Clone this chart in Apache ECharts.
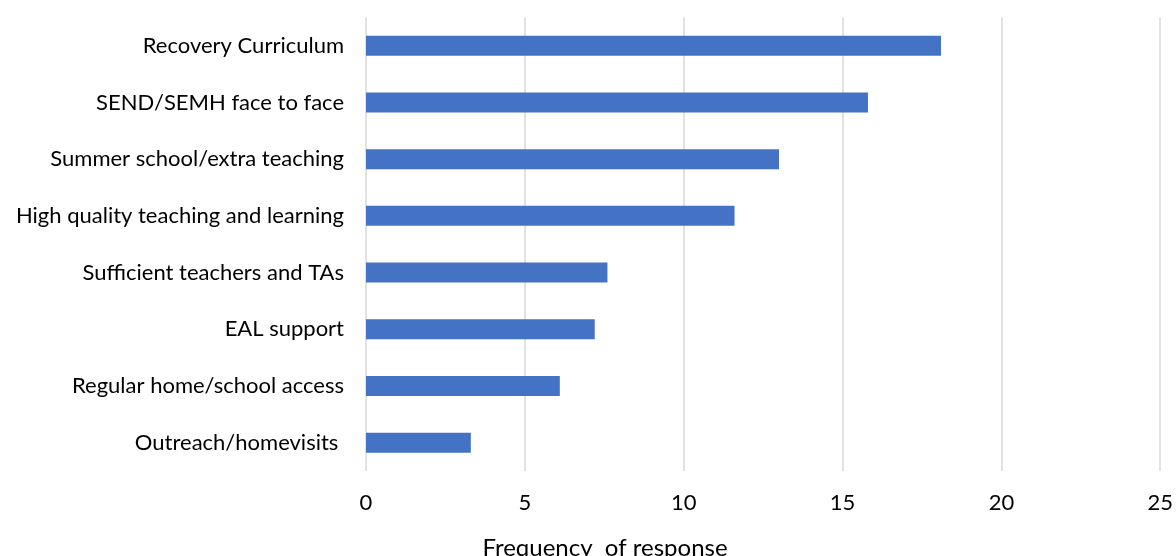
<!DOCTYPE html>
<html lang="en">
<head>
    <meta charset="UTF-8">
    <title>Frequency of response</title>
    <script src="https://cdn.jsdelivr.net/npm/echarts@6/dist/echarts.min.js"></script>
    <style>
        html, body { margin: 0; padding: 0; background: #fff; }
        #chart { width: 1176px; height: 556px; }
    </style>
</head>
<body>
<div id="chart"></div>
<script>
    // categories top to bottom
    var categories = [
        'Recovery Curriculum',
        'SEND/SEMH face to face',
        'Summer school/extra teaching',
        'High quality teaching and learning',
        'Sufficient teachers and TAs',
        'EAL support',
        'Regular home/school access',
        'Outreach/homevisits '
    ];
    var frequency = [18.1, 15.8, 13, 11.6, 7.6, 7.2, 6.1, 3.3];
    var xTicks = { min: 0, max: 25, interval: 5 };
    var axisTitle = 'Frequency  of response';

    var font = 'Lato, "Liberation Sans", sans-serif';
    var chart = echarts.init(document.getElementById('chart'));
    chart.setOption({
        animation: false,
        title: {
            text: axisTitle,
            left: 600,
            top: 531,
            textAlign: 'center',
            textStyle: { fontFamily: font, fontSize: 24, fontWeight: 'normal', color: '#000' }
        },
        grid: { left: 366, right: 13.5, top: 17.4, bottom: 85, containLabel: false },
        xAxis: {
            type: 'value',
            min: xTicks.min,
            max: xTicks.max,
            interval: xTicks.interval,
            axisLine: { show: false },
            axisTick: { show: false },
            splitLine: { lineStyle: { color: '#d9d9d9', width: 1.5 } },
            axisLabel: { fontFamily: font, fontSize: 22, color: '#000', margin: 21 }
        },
        yAxis: {
            type: 'category',
            data: categories,
            inverse: true,
            axisLine: { show: false },
            axisTick: { show: false },
            axisLabel: { fontFamily: font, fontSize: 22, color: '#000', margin: 22 }
        },
        series: [{
            type: 'bar',
            data: frequency,
            barWidth: 20,
            itemStyle: { color: '#4472c4' }
        }]
    });
</script>
</body>
</html>
